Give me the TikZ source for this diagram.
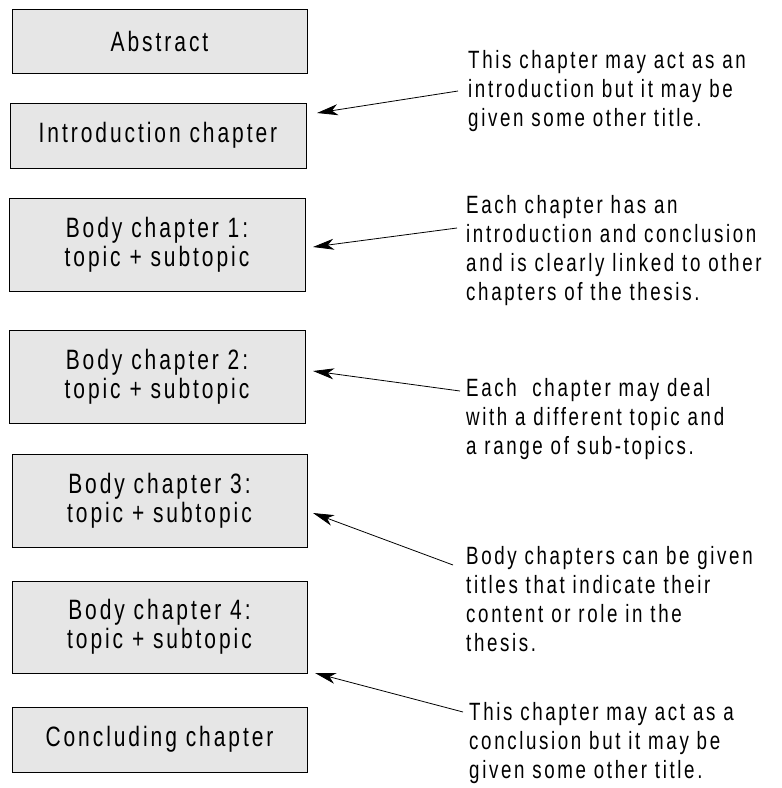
\documentclass[tikz,border=0pt]{standalone}
\usepackage{fontspec}
\setmainfont{Liberation Sans}[FakeStretch=0.75,LetterSpace=10.5]
\usetikzlibrary{arrows.meta}
\definecolor{boxfill}{RGB}{230,230,230}
\tikzset{
  chapbox/.style={draw=black, line width=0.9pt, fill=boxfill, minimum width=295pt, inner sep=0pt,
    align=center, font=\fontsize{28}{29}\selectfont},
  note/.style={anchor=north west, inner sep=0pt, align=left, font=\fontsize{25}{29}\selectfont},
  pointer/.style={line width=0.8pt, -{Stealth[length=21pt,width=11pt,inset=6pt]}}
}
\begin{document}
\begin{tikzpicture}[x=1pt,y=-1pt]
\useasboundingbox (0,0) rectangle (782,788);
\node[chapbox, minimum height=64pt] (abs) at (159.5,41) {Abstract};
\node[chapbox, minimum height=65pt, minimum width=296pt] (intro) at (158,135.5) {Introduction chapter};
\node[chapbox, minimum height=93pt, minimum width=296pt] (b1) at (157,244.5) {Body chapter 1:\\topic + subtopic};
\node[chapbox, minimum height=93pt, minimum width=296pt] (b2) at (157,376.5) {Body chapter 2:\\topic + subtopic};
\node[chapbox, minimum height=93pt] (b3) at (159.5,500.5) {Body chapter 3:\\topic + subtopic};
\node[chapbox, minimum height=92pt] (b4) at (159.5,627) {Body chapter 4:\\topic + subtopic};
\node[chapbox, minimum height=65pt] (concl) at (159.5,739.5) {Concluding chapter};

\node[note] (n1) at (468,50.3) {This chapter may act as an\\introduction but it may be\\given some other title.};
\node[note] (n2) at (466,194.8) {Each chapter has an\\introduction and conclusion\\and is clearly linked to other\\chapters of the thesis.};
\node[note] (n3) at (466,377.8) {Each\ \ chapter may deal\\with a different topic and\\a range of sub-topics.};
\node[note] (n4) at (466,545.8) {Body chapters can be given\\titles that indicate their\\content or role in the\\thesis.};
\node[note] (n5) at (469,701.8) {This chapter may act as a\\conclusion but it may be\\given some other title.};

\coordinate (s1) at (458,91);  \coordinate (t1) at (317,113);
\coordinate (s2) at (457,228); \coordinate (t2) at (313,247);
\coordinate (s3) at (460,391); \coordinate (t3) at (313,371);
\coordinate (s4) at (453,565); \coordinate (t4) at (313,513);
\coordinate (s5) at (463,712); \coordinate (t5) at (315,673);
\draw[pointer] (s1) -- (t1);
\draw[pointer] (s2) -- (t2);
\draw[pointer] (s3) -- (t3);
\draw[pointer] (s4) -- (t4);
\draw[pointer] (s5) -- (t5);
\end{tikzpicture}
\end{document}
